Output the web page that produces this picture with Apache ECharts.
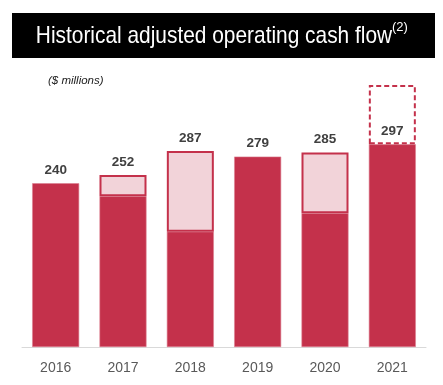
<!DOCTYPE html>
<html><head><meta charset="utf-8">
<script src="https://cdn.jsdelivr.net/npm/echarts@6/dist/echarts.min.js"></script>
<style>html,body{margin:0;padding:0;background:#fff}#c{width:443px;height:385px}</style>
</head><body><div id="c"></div>
<script>
var categories = ['2016','2017','2018','2019','2020','2021'];
var baseValues = [240, 221, 169, 279, 196, 297];
var lightValues = [0, 31, 118, 0, 89, 0];
var dashedValues = [0, 0, 0, 0, 0, 87];
var totalLabels = [240, 252, 287, 279, 285, 297];
var titleText = 'Historical adjusted operating cash flow';
var unitText = '($ millions)';

var DARK = '#c4314b', LIGHT = '#f2d3d9';
var labelStyle = {show: true, position: 'top', distance: 6, fontFamily: 'Liberation Sans, Arial', fontWeight: 'bold', fontSize: 13.5, color: '#404040'};

function items(vals, labelWhen) {
  return vals.map(function (v, i) {
    var it = {value: v === 0 ? null : v};
    if (labelWhen(i)) { it.label = Object.assign({}, labelStyle, {formatter: String(totalLabels[i])}); }
    return it;
  });
}

var chart = echarts.init(document.getElementById('c'), null, {renderer: 'canvas'});
chart.setOption({
  animation: false,
  grid: {left: 22, right: 17, top: 74, bottom: 38},
  xAxis: {
    type: 'category', data: categories,
    axisLine: {lineStyle: {color: '#d9d9d9', width: 1}},
    axisTick: {show: false},
    axisLabel: {color: '#595959', fontSize: 14, fontFamily: 'Liberation Sans, Arial', margin: 14}
  },
  yAxis: {type: 'value', min: 0, max: 400, show: false, splitLine: {show: false}},
  series: [
    {type: 'bar', stack: 's', barWidth: 47, data: items(baseValues, function (i) { return lightValues[i] === 0; }),
     itemStyle: {color: DARK, borderColor: '#dc7f90', borderWidth: 0.6}},
    {type: 'bar', stack: 's', barWidth: 47, data: items(lightValues, function (i) { return lightValues[i] > 0; }),
     itemStyle: {color: LIGHT, borderColor: DARK, borderWidth: 2}},
    {type: 'bar', stack: 's', barWidth: 47, data: items(dashedValues, function () { return false; }),
     itemStyle: {color: 'rgba(255,255,255,0)', borderColor: DARK, borderWidth: 2, borderType: [5, 3]}}
  ],
  graphic: [
    {type: 'rect', left: 12, top: 13, shape: {width: 423, height: 45}, style: {fill: '#000'}},
    {type: 'text', x: 214, y: 36, scaleX: 0.87,
     style: {text: titleText, fill: '#fff', font: '24px "Liberation Sans Narrow", "Liberation Sans", Arial', textAlign: 'center', textVerticalAlign: 'middle'}},
    {type: 'text', x: 392, y: 27,
     style: {text: '(2)', fill: '#fff', font: '13px "Liberation Sans Narrow", "Liberation Sans", Arial', textAlign: 'left', textVerticalAlign: 'middle'}},
    {type: 'text', left: 48, top: 75,
     style: {text: unitText, fill: '#222', font: 'italic 11.5px "Liberation Sans", Arial'}}
  ]
});
</script></body></html>
